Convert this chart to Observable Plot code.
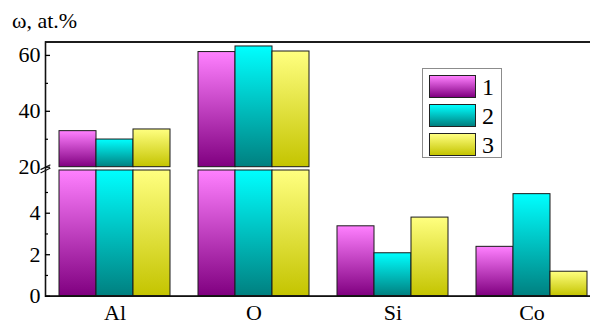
<!DOCTYPE html>
<html>
<head>
<meta charset="utf-8">
<script src="https://cdn.jsdelivr.net/npm/d3@7"></script>
<script src="https://cdn.jsdelivr.net/npm/@observablehq/plot@0.6"></script>
<style>
  body { margin: 0; background: #fff; }
  #wrap { position: relative; width: 590px; height: 324px; overflow: hidden; background: #fff;
          font-family: "Liberation Serif", "Times New Roman", serif; color: #000; }
  #wrap svg { position: absolute; left: 0; top: 0; }
  .ylabel { position: absolute; left: 12px; top: 10px; font-size: 22px; line-height: 22px; white-space: nowrap; }
  .legend { position: absolute; left: 422px; top: 68px; width: 80px; height: 90px; border: 1px solid #8c8c8c; background: #fff; box-sizing: border-box; }
  .legend .sw { position: absolute; left: 6px; width: 47px; height: 23px; border: 1px solid #222; box-sizing: border-box; }
  .legend .lb { position: absolute; left: 59px; font-size: 24px; line-height: 24px; height: 24px; }
</style>
</head>
<body>
<div id="wrap"></div>
<script>
// ---- data ----
const elements = ["Al", "O", "Si", "Co"];
const seriesNames = ["1", "2", "3"];
const series1 = [32.9, 61.2, 3.37, 2.38];
const series2 = [29.9, 63.2, 2.07, 4.92];
const series3 = [33.5, 61.4, 3.79, 1.18];
const majorTicks = [0, 2, 4, 20, 40, 60];
const minorTicks = [1, 3, 5, 30, 50];
const yLabel = "ω, at.%";
const lowerMax = 6.06;   // top of the lower panel
const upperMin = 20;     // bottom of the upper panel
const upperMax = 64.8;   // top of the upper panel

// ---- styles ----
const topColors = ["#ff80ff", "#00ffff", "#ffff80"];
const bottomColors = ["#800080", "#008080", "#c4c400"];
const fontFamily = '"Liberation Serif", "Times New Roman", serif';

const seriesValues = [series1, series2, series3];
const rows = elements.flatMap((el, i) =>
  seriesNames.map((s, j) => ({element: el, series: s, value: seriesValues[j][i], grad: `url(#grad${j})`}))
);

// layout
const W = 590, H = 324, mL = 45, mR = -11, mT = 41.5, mB = 28.3;
const lowerPx = 125.7, gapPx = 3.3, upperPx = 125.2;
const lowerK = lowerPx / lowerMax;              // px per unit, lower panel
const upperK = upperPx / (upperMax - upperMin); // px per unit, upper panel
// broken-axis transform (in lower-panel units)
const brk = v => v <= lowerMax ? v
  : v >= upperMin ? lowerMax + gapPx / lowerK + (v - upperMin) * upperK / lowerK
  : lowerMax + (v - lowerMax) / (upperMin - lowerMax) * gapPx / lowerK;

const slash = { draw(context, l) { context.moveTo(0, 0); context.lineTo(0, -l); } };

const chart = Plot.plot({
  width: W, height: H,
  marginLeft: mL, marginRight: mR, marginTop: mT, marginBottom: mB,
  style: {fontFamily, fontSize: "22px", color: "black", background: "white"},
  fx: {domain: elements, padding: 0, axis: null, label: null},
  x: {domain: seriesNames, paddingInner: 0, paddingOuter: 0.368, axis: null},
  y: {transform: brk, axis: null, nice: false},
  color: {type: "identity"},
  marks: [
    Plot.barY(rows, {fx: "element", x: "series", y1: 0, y2: d => Math.min(d.value, lowerMax), fill: "grad", stroke: "#1a1a1a", strokeWidth: 1}),
    Plot.barY(rows.filter(d => d.value > upperMin), {fx: "element", x: "series", y1: upperMin, y2: "value", fill: "grad", stroke: "#1a1a1a", strokeWidth: 1}),
    Plot.ruleY([0, upperMax], {stroke: "#111", strokeWidth: 1.6}),
    Plot.frame({facet: "super", stroke: "#111", strokeWidth: 1.6}),
    Plot.axisY(majorTicks, {tickSize: -5, tickPadding: 10, label: null, strokeWidth: 1.3, fontSize: 22, fontFamily}),
    Plot.axisY(minorTicks, {tickSize: -3, tickFormat: () => "", label: null, strokeWidth: 1.2}),
    Plot.vector([upperMin, lowerMax], {fx: () => elements[0], y: d => d, frameAnchor: "left", length: 10, rotate: 64, anchor: "middle", shape: slash, stroke: "#111", strokeWidth: 1.2}),
    Plot.axisFx({anchor: "bottom", tickSize: 0, tickPadding: 8.5, label: null, fontSize: 22, fontFamily})
  ]
});

// gradient definitions for the bar fills
const svg = d3.select(chart);
const defs = svg.insert("defs", ":first-child");
topColors.forEach((c, j) => {
  const g = defs.append("linearGradient").attr("id", `grad${j}`).attr("x1", 0).attr("y1", 0).attr("x2", 0).attr("y2", 1);
  g.append("stop").attr("offset", "0%").attr("stop-color", c);
  g.append("stop").attr("offset", "100%").attr("stop-color", bottomColors[j]);
});

const wrap = document.getElementById("wrap");
wrap.appendChild(chart);

// y label
const yl = document.createElement("div");
yl.className = "ylabel";
yl.textContent = yLabel;
wrap.appendChild(yl);

// legend
const lg = document.createElement("div");
lg.className = "legend";
seriesNames.forEach((s, j) => {
  const top = 5.5 + j * 29;
  const sw = document.createElement("div");
  sw.className = "sw";
  sw.style.top = top + "px";
  sw.style.background = `linear-gradient(to bottom, ${topColors[j]}, ${bottomColors[j]})`;
  lg.appendChild(sw);
  const lb = document.createElement("div");
  lb.className = "lb";
  lb.style.top = top + "px";
  lb.textContent = s;
  lg.appendChild(lb);
});
wrap.appendChild(lg);
</script>
</body>
</html>
